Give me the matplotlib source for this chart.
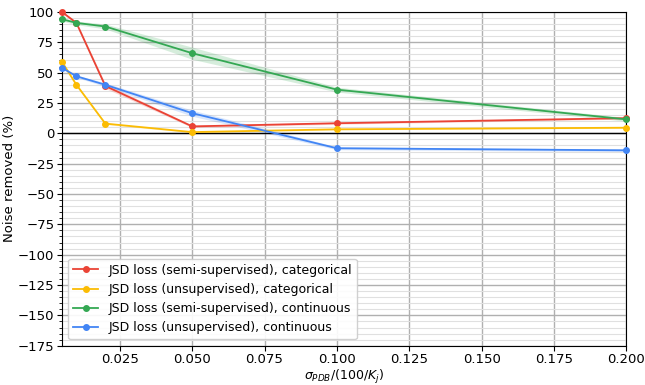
import matplotlib
matplotlib.use("Agg")
import matplotlib.pyplot as plt
import numpy as np
from matplotlib.ticker import MultipleLocator

x = [0.005, 0.01, 0.02, 0.05, 0.1, 0.2]
labels = ["JSD loss (semi-supervised), categorical",
          "JSD loss (unsupervised), categorical",
          "JSD loss (semi-supervised), continuous",
          "JSD loss (unsupervised), continuous"]
red = [100, 91, 39, 5.7, 8.3, 12.5]
yellow = [59, 40, 8, 1, 3.3, 4.6]
green = [94, 91, 88, 66, 36, 11.5]
blue = [54, 47, 40, 16.6, -12.3, -14]
red_err = [1, 1, 2, 1, 0.8, 0.8]
yellow_err = [1, 1, 0.8, 0.5, 0.5, 0.5]
green_err = [1.5, 1.5, 2, 5, 2, 1.5]
blue_err = [1, 1, 1.5, 2.5, 1.2, 1]
colors = ["#EA4335", "#FBBC04", "#34A853", "#4285F4"]

fig = plt.figure(figsize=(6.45, 3.85), dpi=100)
ax = fig.add_axes([0.096, 0.102, 0.875, 0.867])

for y, e, c, lab in zip([red, yellow, green, blue],
                        [red_err, yellow_err, green_err, blue_err], colors, labels):
    y = np.array(y); e = np.array(e)
    ax.fill_between(x, y - e, y + e, color=c, alpha=0.2, lw=0)
    ax.plot(x, y, color=c, marker="o", ms=4, lw=1.3, label=lab, clip_on=False, zorder=3)

ax.axhline(0, color="black", lw=1)
ax.set_xlim(0.005, 0.2)
ax.set_ylim(-175, 100)
ax.yaxis.set_major_locator(MultipleLocator(25))
ax.yaxis.set_minor_locator(MultipleLocator(5))
ax.xaxis.set_major_locator(MultipleLocator(0.025))
ax.tick_params(axis="both", labelsize=9.5, pad=2)
ax.grid(which="major", color="#b0b0b0", lw=1)
ax.grid(which="minor", axis="y", color="#e0e0e0", lw=0.8)
ax.set_axisbelow(True)
ax.set_xlabel(r"$\sigma_{PDB}/(100/K_j)$", fontsize=9, labelpad=1)
ax.set_ylabel("Noise removed (%)", fontsize=9.5, labelpad=1)
ax.legend(loc="lower left", fontsize=9, framealpha=0.9)
fig.savefig("out.png", dpi=100)
